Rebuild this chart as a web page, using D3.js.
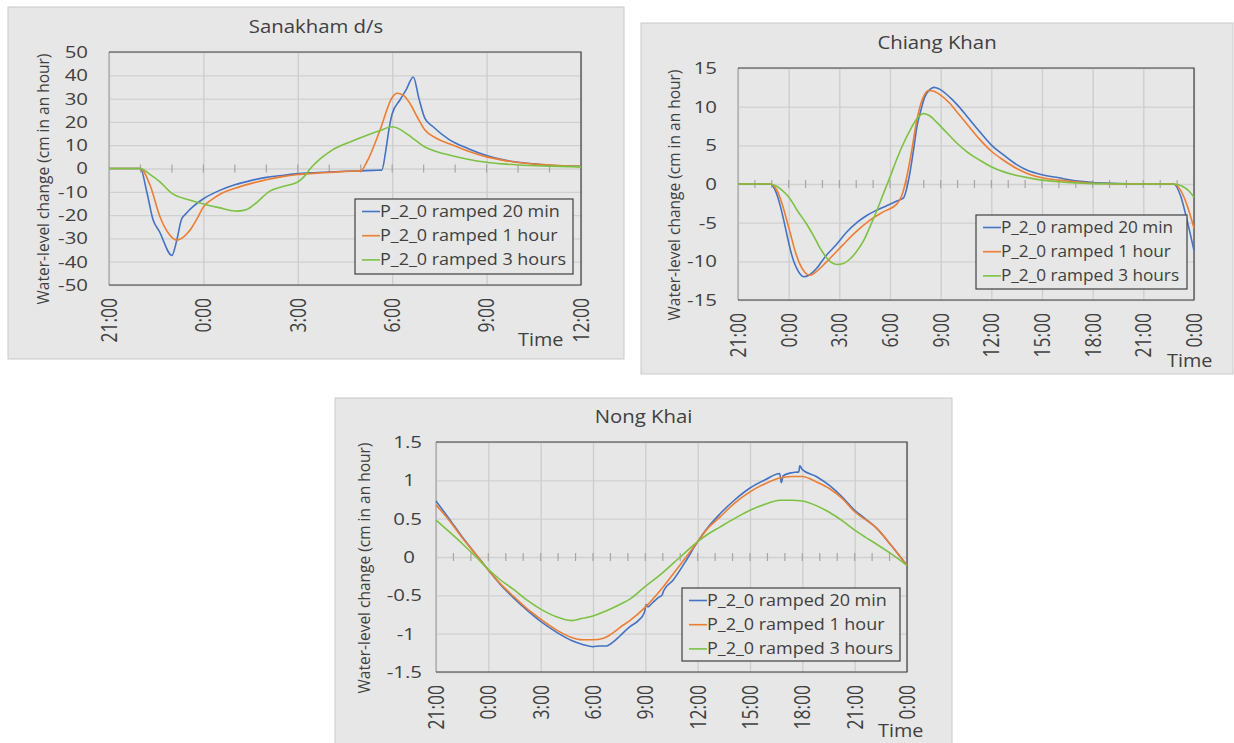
<!DOCTYPE html>
<html>
<head>
<meta charset="utf-8">
<script src="https://cdn.jsdelivr.net/npm/d3@7"></script>
<style>
  body { margin: 0; background: #fff; }
  svg text { font-family: "Open Sans", sans-serif; fill: #404040; }
</style>
</head>
<body>
<svg id="chart" width="1234" height="743"></svg>
<script>
// legend entries, shared by all three charts
const seriesNames = ["P_2_0 ramped 20 min", "P_2_0 ramped 1 hour", "P_2_0 ramped 3 hours"];
const seriesColors = ["#4472C4", "#ED7D31", "#7CC242"];

// tick labels
const sanakhamTimeLabels = ["21:00", "0:00", "3:00", "6:00", "9:00", "12:00"];
const dayTimeLabels = ["21:00", "0:00", "3:00", "6:00", "9:00", "12:00", "15:00", "18:00", "21:00", "0:00"];
const sanakhamYTicks = [-50, -40, -30, -20, -10, 0, 10, 20, 30, 40, 50];
const chiangYTicks = [-15, -10, -5, 0, 5, 10, 15];
const nongYTicks = [-1.5, -1, -0.5, 0, 0.5, 1, 1.5];

// [hours after 21:00, cm per hour]
const sanakham20 = [[0,0],[1,0],[1.2,-10],[1.4,-22],[1.6,-27],[2.0,-37.3],[2.15,-31],[2.3,-22],[2.45,-19.3],[2.7,-16],[3,-13],[3.5,-9.5],[4,-7],[4.5,-5.2],[5,-3.8],[5.5,-3],[6,-2.2],[6.5,-1.8],[7,-1.5],[7.5,-1.2],[8,-1.0],[8.4,-0.8],[8.67,-0.7],[8.8,8],[8.9,17],[9,23.5],[9.25,29.5],[9.45,34],[9.67,39.3],[9.85,30],[10.04,21.5],[10.3,17.9],[10.8,12.5],[11.4,8.6],[12,5.6],[12.5,3.8],[13,2.7],[13.5,2],[14,1.4],[14.5,1.1],[15,0.9]];
const sanakham1h = [[0,0],[1,0],[1.3,-7],[1.62,-20.7],[1.9,-28],[2.15,-30.7],[2.4,-29],[2.6,-26],[2.8,-21.5],[3,-16.5],[3.3,-13],[3.6,-10.5],[4,-8.5],[4.5,-6.5],[5,-4.8],[5.5,-3.5],[6,-2.6],[6.5,-2.1],[7,-1.7],[7.5,-1.3],[8,-1.0],[8.2,3],[8.6,16],[9,30.5],[9.15,32.3],[9.35,31.5],[9.56,28],[9.8,22],[10.04,16.5],[10.4,13],[10.84,10.5],[11.4,7.5],[12,5],[12.5,3.6],[13,2.6],[14,1.5],[15,0.9]];
const sanakham3h = [[0,0],[1,0],[1.3,-2.5],[1.6,-5.5],[2,-10.7],[2.5,-13.3],[3,-15.2],[3.5,-16.8],[4.08,-18.3],[4.4,-17.5],[4.7,-14.5],[5.1,-9.8],[5.5,-7.8],[6,-5.8],[6.2,-3.5],[6.4,0],[6.7,4],[7.08,7.8],[7.66,11.4],[8.2,14.3],[8.6,16.2],[9,17.9],[9.25,16.8],[9.5,14.5],[9.8,11.5],[10.04,9.2],[10.4,7.3],[10.84,5.7],[11.4,4.0],[12,2.7],[12.5,2.0],[13,1.5],[14,1.0],[15,0.7]];

const chiang20 = [[0,0],[1.9,0],[2.2,-0.8],[2.5,-2.8],[2.7,-4.6],[2.9,-6.6],[3.1,-8.5],[3.3,-10],[3.5,-11],[3.7,-11.7],[3.9,-12],[4.2,-11.8],[4.66,-10.9],[5.2,-9.3],[5.84,-7.8],[6.4,-6.3],[7.03,-5],[7.6,-4.1],[8.2,-3.4],[8.8,-2.8],[9.4,-2.2],[9.8,-1.8],[10.1,0.5],[10.4,4.5],[10.6,7.5],[10.8,9.3],[11.05,11.2],[11.35,12.2],[11.6,12.5],[11.9,12.3],[12.55,11.2],[13,10.2],[13.54,8.8],[14.3,6.8],[15.02,5],[15.7,3.8],[16.5,2.5],[17.2,1.7],[18,1.2],[19,0.8],[19.7,0.5],[21,0.2],[22,0.1],[24,0],[25.8,0],[26.2,-1.5],[26.6,-4.8],[27,-8.6]];
const chiang1h = [[0,0],[1.9,0],[2.3,-0.8],[2.6,-2.5],[2.9,-4.8],[3.1,-6.4],[3.4,-8.8],[3.67,-10.4],[3.95,-11.4],[4.26,-11.8],[4.6,-11.4],[5.0,-10.6],[5.45,-9.6],[6.2,-7.9],[7.03,-6.1],[7.8,-4.7],[8.6,-3.6],[9.4,-2.6],[9.7,-1.5],[10,1],[10.3,4.5],[10.55,7.8],[10.8,10.2],[11.05,11.6],[11.3,12.1],[11.6,12],[12,11.5],[12.55,10.4],[13,9.2],[13.54,7.8],[14.3,5.8],[15.02,4.2],[15.7,3.1],[16.5,2],[17.2,1.3],[18,0.8],[19,0.5],[20,0.3],[21,0.1],[22,0.05],[24,0],[25.8,0],[26.2,-0.8],[26.6,-2.8],[27,-5.7]];
const chiang3h = [[0,0],[1.9,0],[2.2,-0.2],[2.49,-0.6],[2.8,-1.2],[3.08,-1.9],[3.5,-3.4],[4.07,-5.2],[4.5,-6.8],[4.86,-8.3],[5.2,-9.4],[5.5,-10.1],[5.84,-10.4],[6.2,-10.3],[6.63,-9.7],[7.0,-8.8],[7.42,-7.4],[7.8,-5.6],[8.21,-3.5],[8.6,-1.3],[9.0,0.9],[9.4,3.2],[9.79,5.2],[10.2,7],[10.58,8.4],[10.97,9.1],[11.3,8.9],[11.76,8],[12.2,7],[12.55,6.2],[13,5.2],[13.54,4.2],[14.3,3.1],[15.02,2.2],[15.7,1.6],[16.5,1.1],[17.2,0.8],[18,0.5],[19,0.3],[20,0.15],[21,0.05],[24,0],[25.8,0],[26.3,-0.3],[26.7,-0.9],[27,-1.7]];

const nong20 = [[0,0.73],[0.75,0.5],[1.57,0.24],[2.3,0.03],[3,-0.17],[3.7,-0.36],[4.43,-0.53],[5.2,-0.69],[6,-0.84],[6.9,-0.98],[7.77,-1.09],[8.4,-1.14],[9,-1.17],[9.4,-1.16],[9.78,-1.16],[10.2,-1.1],[10.54,-1.03],[11.1,-0.91],[11.6,-0.83],[11.95,-0.72],[12.05,-0.62],[12.15,-0.65],[12.4,-0.6],[12.8,-0.52],[12.95,-0.5],[13.05,-0.44],[13.6,-0.3],[14.3,-0.06],[15,0.2],[15.6,0.39],[16.27,0.56],[17.1,0.74],[18,0.9],[18.9,1.01],[19.7,1.09],[19.8,0.97],[19.9,1.06],[20.4,1.1],[20.8,1.11],[20.85,1.19],[21,1.14],[21.8,1.05],[22.57,0.93],[23.3,0.78],[24,0.61],[24.6,0.5],[25.24,0.38],[26.1,0.15],[27,-0.11]];
const nong1h = [[0,0.68],[0.75,0.48],[1.57,0.23],[2.3,0.03],[3,-0.17],[3.7,-0.35],[4.43,-0.51],[5.2,-0.67],[6,-0.81],[6.9,-0.95],[7.77,-1.05],[8.4,-1.08],[9,-1.08],[9.6,-1.06],[10.2,-0.98],[10.54,-0.92],[11.11,-0.83],[11.97,-0.66],[13.02,-0.39],[14,-0.1],[15,0.2],[15.6,0.38],[16.27,0.52],[17.1,0.7],[18,0.85],[18.9,0.96],[19.7,1.03],[20.4,1.05],[21,1.05],[21.8,0.98],[22.57,0.89],[23.3,0.76],[24,0.59],[24.6,0.49],[25.24,0.38],[26.1,0.15],[27,-0.11]];
const nong3h = [[0,0.48],[0.75,0.33],[1.57,0.16],[2.3,0.0],[3,-0.16],[3.7,-0.3],[4.43,-0.42],[5.2,-0.56],[6,-0.68],[6.9,-0.78],[7.77,-0.83],[8.4,-0.8],[9,-0.77],[9.78,-0.7],[10.54,-0.62],[11.11,-0.55],[11.97,-0.39],[13.02,-0.2],[14,0],[15,0.2],[15.6,0.3],[16.27,0.39],[17.1,0.5],[18,0.61],[18.9,0.69],[19.7,0.74],[20.4,0.74],[21,0.73],[21.8,0.67],[22.57,0.58],[23.3,0.47],[24,0.35],[24.6,0.26],[25.24,0.17],[26.1,0.04],[27,-0.11]];

const svg = d3.select("#chart");

function drawChart(c) {
    const g = svg.append("g");

    // grey chart panel
    g.append("rect")
        .attr("x", c.panel[0]).attr("y", c.panel[1])
        .attr("width", c.panel[2]).attr("height", c.panel[3])
        .attr("fill", "#E7E7E7")
        .attr("stroke", "#C9C9C9");

    const width = c.plot[2] - c.plot[0],
        height = c.plot[3] - c.plot[1];
    const plot = g.append("g")
        .attr("transform", `translate(${c.plot[0]}, ${c.plot[1]})`);

    const xScale = d3.scaleLinear().domain([0, c.hours]).range([0, width]);
    const yScale = d3.scaleLinear()
        .domain([c.yTicks[0], c.yTicks[c.yTicks.length - 1]])
        .range([height, 0]);
    const xTickVals = c.xLabels.map((d, i) => i * 3);

    // gridlines
    plot.append("g")
        .call(d3.axisLeft(yScale).tickValues(c.yTicks).tickSize(-width).tickFormat(""))
        .call(s => s.select(".domain").remove())
        .selectAll("line").attr("stroke", "#D0D0D0").attr("stroke-width", 1.3);
    plot.append("g")
        .attr("transform", `translate(0, ${height})`)
        .call(d3.axisBottom(xScale).tickValues(xTickVals).tickSize(-height).tickFormat(""))
        .call(s => s.select(".domain").remove())
        .selectAll("line").attr("stroke", "#CDCDCD").attr("stroke-width", 1.3);

    // hour ticks sitting on the zero line
    plot.selectAll(".minor")
        .data(d3.range(1, c.hours))
        .enter().append("line")
        .attr("x1", d => xScale(d)).attr("x2", d => xScale(d))
        .attr("y1", yScale(0) - 4).attr("y2", yScale(0) + 4)
        .attr("stroke", "#A6A6A6").attr("stroke-width", 1.2);

    // plot frame
    plot.append("line").attr("x1", 0).attr("x2", 0).attr("y1", 0).attr("y2", height)
        .attr("stroke", "#A6A6A6").attr("stroke-width", 1.2);
    plot.append("path")
        .attr("d", `M0,0H${width}V${height}H0`)
        .attr("fill", "none").attr("stroke", "#404040").attr("stroke-width", 1.2);

    // y tick labels
    plot.append("g")
        .call(d3.axisLeft(yScale).tickValues(c.yTicks).tickSize(0).tickFormat(d => String(d)))
        .call(s => s.select(".domain").remove())
        .selectAll("text")
        .attr("x", 0)
        .attr("font-size", 17)
        .attr("transform", d => {
            const shift = c.yGap + (c.intShift && Number.isInteger(d) ? c.intShift : 0);
            return `translate(${-shift}, 0) scale(1.2, 1)`;
        });

    // x tick labels, rotated
    plot.append("g")
        .attr("transform", `translate(0, ${height})`)
        .call(d3.axisBottom(xScale).tickValues(xTickVals).tickSize(0).tickFormat((d, i) => c.xLabels[i]))
        .call(s => s.select(".domain").remove())
        .selectAll("text")
        .attr("x", 0).attr("y", 0).attr("dy", "0.35em")
        .attr("text-anchor", "end")
        .attr("font-size", 17.5)
        .attr("transform", "translate(0, 13) rotate(-90) scale(1, 1.2)");

    // the three series
    const line = d3.line()
        .x(d => xScale(d[0]))
        .y(d => yScale(d[1]))
        .curve(d3.curveMonotoneX);
    plot.selectAll(".series")
        .data(c.series)
        .enter().append("path")
        .attr("fill", "none")
        .attr("stroke", (d, i) => seriesColors[i])
        .attr("stroke-width", 1.6)
        .attr("d", line);

    // texts
    g.append("text")
        .attr("text-anchor", "middle")
        .attr("font-size", 18.5)
        .attr("transform", `translate(${c.panel[0] + c.panel[2] / 2}, ${c.titleY}) scale(1.1, 1)`)
        .text(c.title);

    g.append("text")
        .attr("text-anchor", "middle")
        .attr("dy", "0.3em")
        .attr("font-size", 15.5)
        .attr("transform", `translate(${c.yTitle[0]}, ${c.yTitle[1]}) rotate(-90)`)
        .text("Water-level change (cm in an hour)");

    g.append("text")
        .attr("font-size", 18)
        .attr("transform", `translate(${c.timeLabel[0]}, ${c.timeLabel[1]}) scale(1.1, 1)`)
        .text("Time");

    // legend
    const lg = g.append("g").attr("transform", `translate(${c.legend.x}, ${c.legend.y})`);
    lg.append("rect")
        .attr("width", c.legend.w).attr("height", c.legend.h)
        .attr("fill", "#E7E7E7").attr("stroke", "#404040").attr("stroke-width", 1.2);
    const row = lg.selectAll(".row")
        .data(seriesNames)
        .enter().append("g")
        .attr("transform", (d, i) => `translate(0, ${12.5 + i * 24.2})`);
    row.append("line")
        .attr("x1", 7).attr("x2", 25)
        .attr("stroke", (d, i) => seriesColors[i]).attr("stroke-width", 1.6);
    row.append("text")
        .attr("dy", "0.35em")
        .attr("font-size", 15.5)
        .attr("transform", `translate(25, 0) scale(${c.legend.sx}, 1)`)
        .text(d => d);
}

drawChart({
    title: "Sanakham d/s", titleY: 33,
    panel: [8, 7, 616, 352],
    plot: [109, 52, 581, 285],
    hours: 15,
    yTicks: sanakhamYTicks, yGap: 21,
    xLabels: sanakhamTimeLabels,
    series: [sanakham20, sanakham1h, sanakham3h],
    legend: {x: 355, y: 199, w: 218, h: 75, sx: 1.16},
    timeLabel: [518, 346],
    yTitle: [44, 179]
});

drawChart({
    title: "Chiang Khan", titleY: 49,
    panel: [641, 23, 592, 351],
    plot: [738, 68, 1194, 300],
    hours: 27,
    yTicks: chiangYTicks, yGap: 21,
    xLabels: dayTimeLabels,
    series: [chiang20, chiang1h, chiang3h],
    legend: {x: 976, y: 215, w: 211, h: 74, sx: 1.11},
    timeLabel: [1167, 367],
    yTitle: [675, 195]
});

drawChart({
    title: "Nong Khai", titleY: 423,
    panel: [335, 398, 617, 360],
    plot: [436, 442, 907, 672],
    hours: 27,
    yTicks: nongYTicks, yGap: 14, intShift: 7,
    xLabels: dayTimeLabels,
    series: [nong20, nong1h, nong3h],
    legend: {x: 682, y: 588, w: 218, h: 73, sx: 1.16},
    timeLabel: [878, 737],
    yTitle: [365, 568]
});
</script>
</body>
</html>
